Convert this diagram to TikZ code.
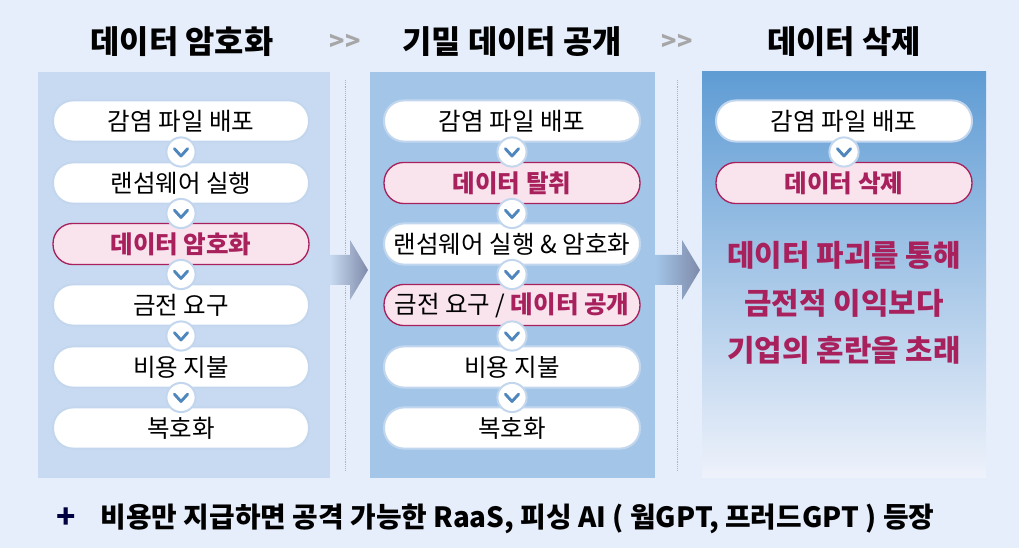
\documentclass[tikz,border=0pt]{standalone}
\usepackage{fontspec}
\setmainfont{Noto Sans CJK KR}
\usetikzlibrary{shapes.geometric,calc}
\definecolor{bgblue}{HTML}{E6EEFB}
\definecolor{panelA}{HTML}{C8DAF1}
\definecolor{panelB}{HTML}{A3C6E8}
\definecolor{panelTop}{HTML}{5F9CD4}
\definecolor{panelBot}{HTML}{EEF2FB}
\definecolor{rim}{HTML}{C2D6EE}
\definecolor{hot}{HTML}{A8215C}
\definecolor{hotfill}{HTML}{F9E4EE}
\definecolor{chev}{HTML}{4F86BE}
\definecolor{arr}{HTML}{7F8AAA}
\tikzset{
  stage/.style={draw=rim, line width=1.5pt, fill=white, rounded corners=15pt,
    minimum width=193pt, minimum height=31pt, font=\fontsize{18.5}{20}\selectfont},
  hotstage/.style={stage, draw=hot, line width=1pt, fill=hotfill, text=hot, font=\fontsize{18.5}{20}\selectfont\bfseries},
  title/.style={font=\fontsize{24}{26}\selectfont\bfseries},
  dbl/.style={text=gray!70, font=\fontsize{19}{20}\selectfont\bfseries},
  ring/.style={circle, draw=rim, line width=1.5pt, fill=white, minimum size=22pt, inner sep=0pt},
}
\newcommand{\chevron}[2]{%
  \node[ring] (#1) at (#2) {};
  \draw[chev, line width=2.2pt, line cap=round, line join=round]
    ([xshift=-5pt,yshift=2.5pt]#1.center) -- ([yshift=-3pt]#1.center) -- ([xshift=5pt,yshift=2.5pt]#1.center);}
\begin{document}
\begin{tikzpicture}[x=0.0265cm, y=-0.0265cm]
\fill[bgblue] (0,0) rectangle (1019,548);
\useasboundingbox (0,0) rectangle (1019,548);
% panels
\fill[panelA] (38,72) rectangle (330,478);
\fill[panelB] (370,72) rectangle (655,478);
\shade[top color=panelTop, bottom color=panelBot] (702,72) rectangle (986,478);
\draw[gray!60, densely dotted] (345,80) -- (345,470);
\draw[gray!60, densely dotted] (677,80) -- (677,470);
% titles
\node[title] (t1) at (182,42) {데이터 암호화};
\node[title] (t2) at (512,42) {기밀 데이터 공개};
\node[title] (t3) at (844,42) {데이터 삭제};
\node[dbl] (g1) at (345,42) {>{}>};
\node[dbl] (g2) at (677,42) {>{}>};
% big arrows
\shade[left color=panelA, right color=arr] (330,255) -- (350,255) -- (350,240) -- (368,270) -- (350,300) -- (350,285) -- (330,285) -- cycle;
\shade[left color=panelB, right color=arr] (655,255) -- (682,255) -- (682,240) -- (700,270) -- (682,300) -- (682,285) -- (655,285) -- cycle;
% column 1
\node[stage] (a1) at (181,121) {감염 파일 배포};
\node[stage] (a2) at (181,183) {랜섬웨어 실행};
\node[hotstage] (a3) at (181,244) {데이터 암호화};
\node[stage] (a4) at (181,305) {금전 요구};
\node[stage] (a5) at (181,367) {비용 지불};
\node[stage] (a6) at (181,428) {복호화};
\foreach \i/\j in {1/2,2/3,3/4,4/5,5/6} {\chevron{ca\i}{$(a\i)!0.5!(a\j)$}}
% column 2
\node[stage] (b1) at (512,121) {감염 파일 배포};
\node[hotstage] (b2) at (512,183) {데이터 탈취};
\node[stage] (b3) at (512,244) {랜섬웨어 실행 \& 암호화};
\node[stage, draw=hot, line width=1pt, fill=hotfill] (b4) at (512,305) {금전 요구 / \textcolor{hot}{\bfseries 데이터 공개}};
\node[stage] (b5) at (512,367) {비용 지불};
\node[stage] (b6) at (512,428) {복호화};
\foreach \i/\j in {1/2,2/3,3/4,4/5,5/6} {\chevron{cb\i}{$(b\i)!0.5!(b\j)$}}
% column 3
\node[stage] (c1) at (844,121) {감염 파일 배포};
\node[hotstage] (c2) at (844,183) {데이터 삭제};
\chevron{cc1}{$(c1)!0.5!(c2)$}
\node[text=hot, align=center, font=\fontsize{22.5}{36}\selectfont\bfseries] (note) at (844,303)
  {데이터 파괴를 통해\\금전적 이익보다\\기업의 혼란을 초래};
% footer
\node[font=\fontsize{24}{24}\selectfont\bfseries, text=blue!25!black] (plus) at (66,518) {+};
\node[anchor=west, font=\fontsize{21}{22}\selectfont\bfseries] (foot) at (96,519)
  {비용만 지급하면 공격 가능한 RaaS, 피싱 AI ( 웜GPT, 프러드GPT ) 등장};
\end{tikzpicture}
\end{document}
